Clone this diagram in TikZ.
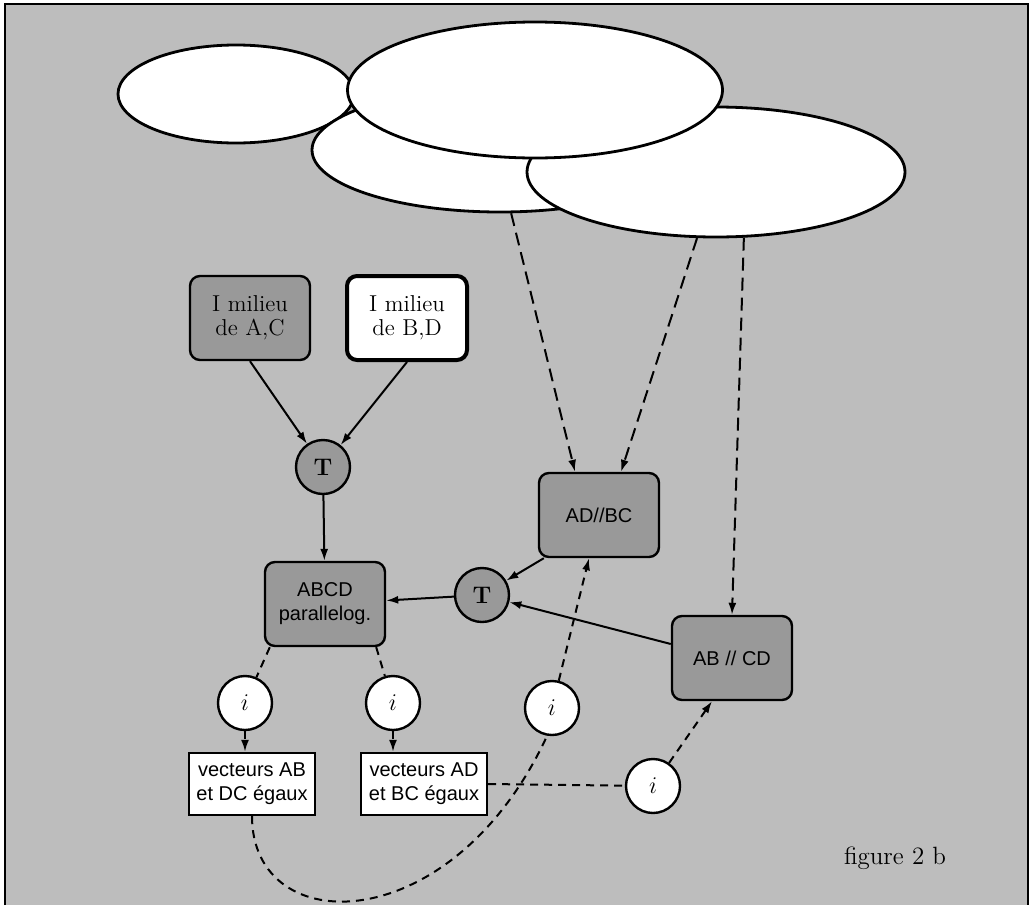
\documentclass[tikz,border=0pt]{standalone}
\usepackage{fontspec}
\setsansfont{Liberation Sans}
\usetikzlibrary{arrows.meta,shapes.geometric}

\definecolor{fond}{gray}{0.74}
\definecolor{trame}{gray}{0.6}

\begin{document}
\begin{tikzpicture}[x=0.5pt, y=-0.5pt, >={Latex[length=6pt,width=4pt]},
    bulle/.style={draw, ellipse, fill=white, line width=1.4pt, inner sep=0pt},
    fait/.style={draw, rounded corners=5pt, fill=trame, align=center, minimum width=60pt, minimum height=42pt, line width=1.2pt, font=\sffamily},
    hyp/.style={fait, font=\rmfamily\fontsize{11.5}{12}\selectfont},
    vect/.style={draw, fill=white, align=center, minimum width=63pt, minimum height=31pt, inner sep=1pt, line width=1.2pt, font=\sffamily},
    regle/.style={draw, circle, minimum size=27pt, inner sep=0pt, line width=1.2pt, font=\large},
    fleche/.style={->, line width=1pt},
    lien/.style={dash pattern=on 4pt off 3pt, line width=1pt},
    renvoi/.style={->, dash pattern=on 6.5pt off 3.5pt, line width=1pt}
]
    \useasboundingbox (0,0) rectangle (1033,905);
    \fill[fond] (5,4) rectangle (1028,905);
    \draw[line width=1pt] (5,905) -- (5,4) -- (1028,4) -- (1028,905);

    \node[bulle, minimum width=118pt, minimum height=49pt] (e1) at (236,94) {};
    \node[bulle, minimum width=188pt, minimum height=62pt] (e3) at (500,150) {};
    \node[bulle, minimum width=189pt, minimum height=65pt] (e4) at (716,172) {};
    \node[bulle, minimum width=187.5pt, minimum height=68pt] (e2) at (535,90) {};

    \node[hyp] (ma) at (250,318) {I milieu\\de A,C};
    \node[hyp, fill=white, line width=2pt] (mb) at (407,318) {I milieu\\de B,D};
    \node[regle, fill=trame] (t1) at (323,467) {\textbf{T}};
    \node[fait] (pg) at (325,604) {ABCD\\parallelog.};
    \node[fait] (adbc) at (599,515) {AD//BC};
    \node[regle, fill=trame] (t2) at (482,595) {\textbf{T}};
    \node[fait] (abcd) at (732,658) {AB // CD};

    \node[regle, fill=white] (i1) at (245,703) {$i$};
    \node[regle, fill=white] (i2) at (393,703) {$i$};
    \node[regle, fill=white] (i3) at (552,708) {$i$};
    \node[regle, fill=white] (i4) at (653,786) {$i$};
    \node[vect] (vab) at (252,784) {vecteurs AB\\et DC égaux};
    \node[vect] (vad) at (424,784) {vecteurs AD\\et BC égaux};
    \node[font=\rmfamily\fontsize{12.5}{14}\selectfont] (fig) at (895,858) {figure 2 b};

    \draw[renvoi] (e3.-80) -- ([xshift=-12pt]adbc.north);
    \draw[renvoi] (e4.-106) -- ([xshift=11pt]adbc.north);
    \draw[renvoi] (e4.-67) -- (abcd.north);

    \draw[fleche] (ma.south) -- (t1);
    \draw[fleche] (mb.south) -- (t1);
    \draw[fleche] (t1) -- (pg);
    \draw[fleche] (t2) -- (pg);
    \draw[fleche] ([xshift=3pt]adbc.south west) -- (t2);
    \draw[fleche] ([yshift=7pt]abcd.west) -- (t2);

    \draw[lien] ([xshift=3pt]pg.south west) -- (i1);
    \draw[lien] ([xshift=-5pt]pg.south east) -- (i2);
    \draw[lien, ->] (i1) -- (i1 |- vab.north);
    \draw[lien, ->] (i2) -- (i2 |- vad.north);
    \draw[lien] (vab.south) .. controls +(0,125) and +(-95,205) .. (i3.-100);
    \draw[lien, ->] (i3) -- ([xshift=-5pt]adbc.south);
    \draw[lien] (vad.east) -- (i4);
    \draw[lien, ->] (i4) -- ([xshift=-10pt]abcd.south);
\end{tikzpicture}
\end{document}
